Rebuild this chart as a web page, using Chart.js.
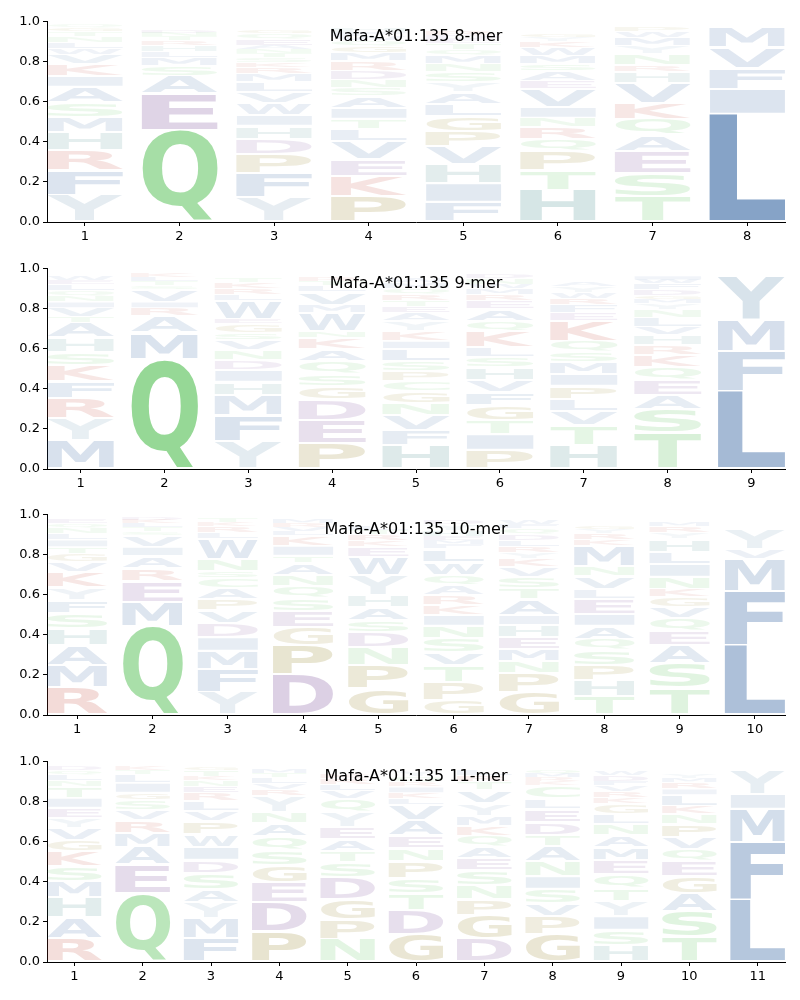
<!DOCTYPE html>
<html>
<head>
<meta charset="utf-8">
<script src="https://cdn.jsdelivr.net/npm/chart.js@4.4.1/dist/chart.umd.min.js"></script>
<style>
    body { margin: 0; background: #fff; width: 800px; height: 1000px; position: relative; overflow: hidden; }
    .panel { position: absolute; left: 0; width: 800px; height: 241px; }
</style>
</head>
<body>
<div class="panel" style="top:11px"><canvas id="logo8" width="800" height="241"></canvas></div>
<div class="panel" style="top:258px"><canvas id="logo9" width="800" height="241"></canvas></div>
<div class="panel" style="top:504px"><canvas id="logo10" width="800" height="241"></canvas></div>
<div class="panel" style="top:751px"><canvas id="logo11" width="800" height="241"></canvas></div>
<script>
// letters per position, listed bottom -> top, with matching heights
const mer8Letters = ["YFRHMSAIKVWLNTGQ", "QEASMLHRTND", "YFPDHIWVLMRKSTNAEQG", "PKEVLTIASNDRMGQWFH",
    "FIHVPGLAYSNMQTEDR", "HTPQRNIVEASMWKYG", "TSEAQKVHRNYMWP", "LIFVM"];
const mer8Heights = [
    [0.135, 0.125, 0.10, 0.09, 0.075, 0.07, 0.08, 0.055, 0.06, 0.045, 0.03, 0.03, 0.03, 0.025, 0.02, 0.015],
    [0.46, 0.18, 0.09, 0.05, 0.04, 0.03, 0.03, 0.025, 0.02, 0.02, 0.015],
    [0.125, 0.12, 0.095, 0.075, 0.065, 0.055, 0.06, 0.055, 0.05, 0.04, 0.03, 0.025, 0.025, 0.02, 0.02, 0.02, 0.03, 0.03, 0.02],
    [0.13, 0.10, 0.085, 0.09, 0.06, 0.05, 0.055, 0.06, 0.04, 0.04, 0.045, 0.05, 0.04, 0.03, 0.03, 0.02, 0.02, 0.02],
    [0.10, 0.095, 0.095, 0.09, 0.075, 0.075, 0.06, 0.06, 0.05, 0.05, 0.04, 0.04, 0.03, 0.03, 0.02, 0.02, 0.02],
    [0.16, 0.10, 0.095, 0.06, 0.06, 0.045, 0.055, 0.09, 0.04, 0.05, 0.035, 0.04, 0.04, 0.03, 0.02, 0.02],
    [0.13, 0.115, 0.11, 0.08, 0.08, 0.08, 0.10, 0.055, 0.035, 0.055, 0.04, 0.04, 0.03, 0.02],
    [0.54, 0.125, 0.105, 0.105, 0.105]
];

const mer9Letters = ["MYRFKSHATVINQLEW", "QMARIVSTLK", "YFMHIDNVSGEWLRKT", "PEDGSQAKNWMVLTR",
    "HFVNGCPSLIKYAETRQMW", "PITGFVHSLKQAERMWND", "HTVLPIMSQKEFRWYA", "TSAEQKRHVLNYMGDFWI", "LFMY"];
const mer9Heights = [
    [0.145, 0.11, 0.10, 0.085, 0.08, 0.065, 0.07, 0.075, 0.03, 0.045, 0.03, 0.03, 0.025, 0.03, 0.02, 0.02],
    [0.55, 0.13, 0.085, 0.04, 0.03, 0.06, 0.02, 0.02, 0.02, 0.02],
    [0.14, 0.13, 0.10, 0.065, 0.06, 0.05, 0.05, 0.05, 0.035, 0.045, 0.025, 0.09, 0.03, 0.03, 0.03, 0.02],
    [0.13, 0.115, 0.105, 0.065, 0.06, 0.065, 0.06, 0.055, 0.035, 0.09, 0.04, 0.065, 0.03, 0.02, 0.02],
    [0.12, 0.075, 0.075, 0.06, 0.06, 0.05, 0.05, 0.05, 0.06, 0.04, 0.05, 0.05, 0.04, 0.03, 0.03, 0.03, 0.03, 0.03, 0.02],
    [0.095, 0.08, 0.07, 0.075, 0.065, 0.06, 0.065, 0.05, 0.05, 0.08, 0.05, 0.06, 0.04, 0.03, 0.03, 0.02, 0.03, 0.02],
    [0.12, 0.10, 0.07, 0.06, 0.065, 0.06, 0.06, 0.05, 0.055, 0.10, 0.04, 0.04, 0.03, 0.03, 0.03, 0.02],
    [0.18, 0.12, 0.07, 0.075, 0.065, 0.06, 0.05, 0.05, 0.04, 0.045, 0.04, 0.03, 0.02, 0.02, 0.03, 0.03, 0.02, 0.02],
    [0.39, 0.20, 0.155, 0.22]
];

const mer10Letters = ["RMAHSFYKVGTILNQE", "QMERAIVSTLKD", "YFMIDVPACSNWLRKT", "DPGESQNATIKLVRM",
    "GPNDSAHYWEKRTL", "GPTVSNIKRAQWLFMEHYD", "GPNMEHIATSVKYRLDQFW", "THPSQAIELVNMKRYG",
    "TSAEQVGKNILHYRM", "LFMVY"];
const mer10Heights = [
    [0.14, 0.11, 0.10, 0.085, 0.075, 0.065, 0.065, 0.075, 0.05, 0.04, 0.035, 0.035, 0.03, 0.03, 0.02, 0.02],
    [0.445, 0.12, 0.105, 0.065, 0.06, 0.045, 0.055, 0.02, 0.02, 0.02, 0.02, 0.015],
    [0.115, 0.115, 0.09, 0.07, 0.07, 0.065, 0.055, 0.055, 0.05, 0.035, 0.06, 0.10, 0.03, 0.03, 0.02, 0.02],
    [0.20, 0.15, 0.09, 0.08, 0.065, 0.06, 0.055, 0.06, 0.035, 0.05, 0.05, 0.02, 0.02, 0.02, 0.02],
    [0.13, 0.12, 0.09, 0.075, 0.06, 0.065, 0.06, 0.10, 0.09, 0.05, 0.03, 0.03, 0.02, 0.02],
    [0.075, 0.09, 0.085, 0.065, 0.07, 0.06, 0.055, 0.05, 0.05, 0.05, 0.05, 0.065, 0.065, 0.02, 0.02, 0.02, 0.03, 0.03, 0.02],
    [0.115, 0.095, 0.06, 0.06, 0.06, 0.06, 0.05, 0.08, 0.055, 0.055, 0.05, 0.04, 0.03, 0.03, 0.03, 0.03, 0.03, 0.02, 0.02],
    [0.095, 0.08, 0.075, 0.075, 0.055, 0.065, 0.06, 0.075, 0.05, 0.065, 0.05, 0.10, 0.03, 0.03, 0.02, 0.02],
    [0.135, 0.125, 0.09, 0.07, 0.065, 0.055, 0.05, 0.04, 0.06, 0.065, 0.06, 0.065, 0.03, 0.03, 0.02],
    [0.35, 0.27, 0.16, 0.05, 0.10]
];

const mer11Letters = ["RAHMSKGVYEITNLQD", "QEAMRVSGILTK", "FMYASDIWPVLRENKTG", "PDEGSQANYRVLTM",
    "NPGDSTAEYQVLRK", "GDTSPNEAVLKIRQY", "DGPNSEAQKMYVTRL", "GPVSINATDELCKRMQ",
    "HSIYTQEMANLGKRVFDW", "TSAGEQVPNKLIRMY", "LFMIY"];
const mer11Heights = [
    [0.12, 0.105, 0.10, 0.08, 0.075, 0.075, 0.055, 0.06, 0.05, 0.05, 0.05, 0.055, 0.03, 0.03, 0.02, 0.02],
    [0.345, 0.14, 0.09, 0.07, 0.065, 0.05, 0.05, 0.035, 0.05, 0.04, 0.02, 0.02],
    [0.12, 0.10, 0.08, 0.065, 0.08, 0.065, 0.065, 0.065, 0.065, 0.05, 0.05, 0.04, 0.03, 0.03, 0.02, 0.03, 0.02],
    [0.155, 0.145, 0.10, 0.085, 0.075, 0.07, 0.065, 0.055, 0.08, 0.03, 0.03, 0.03, 0.02, 0.02],
    [0.115, 0.10, 0.10, 0.11, 0.075, 0.055, 0.06, 0.06, 0.075, 0.065, 0.04, 0.03, 0.03, 0.02],
    [0.14, 0.12, 0.085, 0.075, 0.085, 0.065, 0.06, 0.08, 0.075, 0.03, 0.03, 0.03, 0.02, 0.03, 0.03],
    [0.115, 0.12, 0.08, 0.07, 0.075, 0.06, 0.055, 0.055, 0.05, 0.05, 0.065, 0.065, 0.04, 0.03, 0.03],
    [0.14, 0.09, 0.065, 0.07, 0.065, 0.075, 0.075, 0.055, 0.065, 0.065, 0.05, 0.065, 0.02, 0.02, 0.02, 0.02],
    [0.085, 0.075, 0.07, 0.075, 0.065, 0.07, 0.07, 0.065, 0.06, 0.055, 0.05, 0.05, 0.03, 0.03, 0.03, 0.02, 0.03, 0.02],
    [0.125, 0.13, 0.09, 0.085, 0.075, 0.06, 0.06, 0.065, 0.05, 0.04, 0.055, 0.03, 0.03, 0.02, 0.02],
    [0.31, 0.29, 0.165, 0.075, 0.12]
];

const yTicks = [0, 0.2, 0.4, 0.6, 0.8, 1.0];

// residue colour groups
const residueColors = {
    blue: [48, 97, 159],
    slate: [110, 150, 180],
    teal: [55, 130, 130],
    green: [79, 190, 79],
    khaki: [140, 120, 20],
    purple: [112, 63, 145],
    red: [190, 60, 45]
};
const residueGroup = {
    A: "blue", F: "blue", I: "blue", L: "blue", M: "blue", V: "blue", W: "blue",
    Y: "slate", H: "teal",
    C: "green", Q: "green", S: "green", T: "green", N: "green",
    G: "khaki", P: "khaki",
    D: "purple", E: "purple",
    K: "red", R: "red"
};

function letterColor(ch, h) {
    const c = residueColors[residueGroup[ch]] || residueColors.blue;
    const a = Math.min(1, 0.045 + h);
    return `rgba(${c[0]},${c[1]},${c[2]},${a.toFixed(3)})`;
}

const glyphCache = {};
function glyphBox(ctx, ch) {
    if (!glyphCache[ch]) {
        ctx.save();
        ctx.font = "bold 100px 'DejaVu Sans'";
        const m = ctx.measureText(ch);
        glyphCache[ch] = {
            left: m.actualBoundingBoxLeft,
            right: m.actualBoundingBoxRight,
            ascent: m.actualBoundingBoxAscent,
            descent: m.actualBoundingBoxDescent
        };
        ctx.restore();
    }
    return glyphCache[ch];
}

const letterPlugin = {
    id: "letterStack",
    afterDatasetsDraw(chart) {
        const ctx = chart.ctx;
        const area = chart.chartArea;
        ctx.save();
        ctx.beginPath();
        ctx.rect(area.left, area.top, area.right - area.left, area.bottom - area.top);
        ctx.clip();

        chart.data.datasets.forEach((ds, k) => {
            chart.getDatasetMeta(k).data.forEach((bar, i) => {
                const h = ds.data[i].y;
                const ch = ds.letters[i];
                if (!ch || h <= 0) return;
                const p = bar.getProps(["x", "y", "base", "width"], true);
                let top = Math.min(p.y, p.base);
                let bottom = Math.max(p.y, p.base);
                const pad = Math.min(1.2, (bottom - top) * 0.1);
                top += pad;
                bottom -= pad;
                const box = glyphBox(ctx, ch);
                const gw = box.left + box.right;
                const gh = box.ascent + box.descent;
                ctx.save();
                ctx.translate(p.x - p.width / 2, top);
                ctx.scale(p.width / gw, (bottom - top) / gh);
                ctx.font = "bold 100px 'DejaVu Sans'";
                ctx.textAlign = "left";
                ctx.textBaseline = "alphabetic";
                ctx.fillStyle = letterColor(ch, h);
                ctx.fillText(ch, box.left, box.ascent);
                ctx.restore();
            });
        });
        ctx.restore();

        const title = chart.options.plugins.letterStack.title;
        ctx.save();
        ctx.font = "16px 'DejaVu Sans'";
        ctx.fillStyle = "#000";
        ctx.textAlign = "center";
        ctx.textBaseline = "middle";
        ctx.fillText(title, (area.left + area.right) / 2, area.top + 15);
        ctx.restore();
    }
};

function buildLogo(canvasId, title, letters, heights) {
    const n = letters.length;
    const depth = Math.max(...letters.map(s => s.length));
    const datasets = [];

    for (let k = 0; k < depth; k++) {
        datasets.push({
            data: heights.map((col, i) => ({ x: i + 1, y: col[k] || 0 })),
            letters: letters.map(s => s[k] || ""),
            backgroundColor: "rgba(0,0,0,0)",
            borderWidth: 0,
            categoryPercentage: 1,
            barPercentage: 0.8
        });
    }

    const axisFont = { family: "'DejaVu Sans'", size: 13 };

    return new Chart(document.getElementById(canvasId), {
        type: "bar",
        data: { datasets },
        options: {
            responsive: false,
            animation: false,
            events: [],
            layout: { padding: { top: 10, right: 15, left: 0, bottom: 0 } },
            plugins: {
                legend: { display: false },
                tooltip: { enabled: false },
                letterStack: { title: title }
            },
            scales: {
                x: {
                    type: "linear",
                    stacked: true,
                    offset: false,
                    min: 0.6,
                    max: n + 0.4,
                    afterBuildTicks: scale => {
                        scale.ticks = letters.map((s, i) => ({ value: i + 1 }));
                    },
                    afterFit: scale => { scale.height = 30; },
                    grid: { offset: false, drawOnChartArea: false, drawTicks: true, tickLength: 4, color: "#000" },
                    border: { color: "#000", width: 1 },
                    ticks: { color: "#000", font: axisFont, padding: 3, maxRotation: 0, autoSkip: false,
                        callback: v => String(v) }
                },
                y: {
                    stacked: true,
                    min: 0,
                    max: 1,
                    afterBuildTicks: scale => {
                        scale.ticks = yTicks.map(v => ({ value: v }));
                    },
                    afterFit: scale => { scale.width = 47; },
                    grid: { drawOnChartArea: false, drawTicks: true, tickLength: 4, color: "#000" },
                    border: { color: "#000", width: 1 },
                    ticks: { color: "#000", font: axisFont, padding: 3, callback: v => v.toFixed(1) }
                }
            }
        },
        plugins: [letterPlugin]
    });
}

buildLogo("logo8", "Mafa-A*01:135 8-mer", mer8Letters, mer8Heights);
buildLogo("logo9", "Mafa-A*01:135 9-mer", mer9Letters, mer9Heights);
buildLogo("logo10", "Mafa-A*01:135 10-mer", mer10Letters, mer10Heights);
buildLogo("logo11", "Mafa-A*01:135 11-mer", mer11Letters, mer11Heights);
</script>
</body>
</html>
